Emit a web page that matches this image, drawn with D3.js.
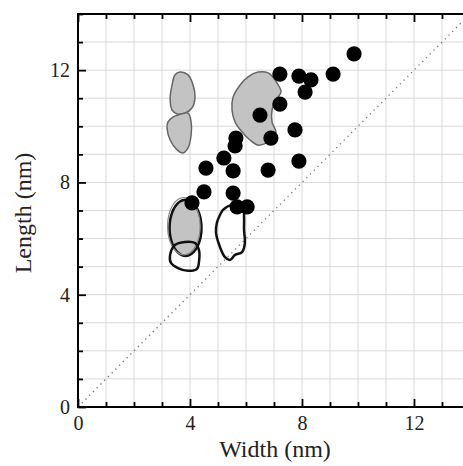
<!DOCTYPE html>
<html>
<head>
<meta charset="utf-8">
<script src="https://cdn.jsdelivr.net/npm/d3@7"></script>
<style>
  body { margin: 0; background: #fff; }
  svg { display: block; }
  text { font-family: "Liberation Serif", "DejaVu Serif", serif; fill: #222; }
</style>
</head>
<body>
<svg id="chart" width="463" height="466"></svg>
<script>
// measured particles (width, length) in nm
const widths  = [9.86, 7.21, 7.89, 8.32, 9.11, 8.11, 7.21, 6.50, 7.75, 6.89, 5.64,
                 5.61, 5.21, 4.57, 5.54, 6.79, 7.89, 4.50, 5.54, 4.07, 5.68, 6.04];
const lengths = [12.58, 11.86, 11.79, 11.65, 11.86, 11.22, 10.79, 10.40, 9.87, 9.58, 9.58,
                 9.30, 8.87, 8.51, 8.41, 8.44, 8.76, 7.66, 7.62, 7.27, 7.13, 7.13];

// contour regions, [width, length]
const bigBlob = [[6.43, 11.93], [6.79, 11.90], [7.11, 11.54], [7.25, 11.22], [7.07, 10.94],
                 [6.93, 10.58], [6.93, 10.15], [7.07, 9.80], [6.96, 9.55], [6.75, 9.41],
                 [6.43, 9.33], [6.14, 9.51], [5.86, 9.80], [5.61, 10.15], [5.50, 10.58],
                 [5.54, 11.04], [5.79, 11.47], [6.07, 11.76]];
const upperBlob = [[3.64, 11.93], [3.93, 11.83], [4.11, 11.47], [4.18, 11.04], [4.07, 10.65],
                   [3.82, 10.47], [3.54, 10.44], [3.36, 10.58], [3.29, 11.01], [3.36, 11.47],
                   [3.46, 11.83]];
const lowerBlob = [[3.57, 10.40], [3.93, 10.47], [4.04, 10.15], [4.04, 9.69], [3.93, 9.23],
                   [3.75, 9.05], [3.54, 9.16], [3.29, 9.51], [3.18, 9.94], [3.21, 10.15],
                   [3.39, 10.33]];
const smallLoop = [[3.46, 5.77], [3.82, 5.88], [4.18, 5.84], [4.32, 5.59], [4.32, 5.17],
                   [4.25, 4.92], [3.93, 4.85], [3.57, 4.95], [3.32, 5.13], [3.29, 5.42]];
const midLoop = [[5.18, 7.02], [5.50, 7.20], [5.89, 7.13], [5.93, 6.77], [5.93, 6.31],
                 [5.96, 5.84], [5.86, 5.52], [5.61, 5.42], [5.43, 5.24], [5.25, 5.34],
                 [5.07, 5.70], [4.93, 6.20], [4.96, 6.56], [5.07, 6.84]];
// ellipse region: center x, center y, half width, half height
const ovalIn  = [3.84, 6.38, 0.57, 1.00];
const ovalOut = [3.78, 6.44, 0.58, 1.02];

const majorTicks = [0, 4, 8, 12];
const minorTicks = d3.range(0, 15);

const svg = d3.select("#chart");
const left = 78, bottom = 407, plotTop = 14;

const x = d3.scaleLinear().domain([0, 14]).range([left, left + 14 * 28]);
const y = d3.scaleLinear().domain([0, 14]).range([bottom, plotTop]);

// grid
svg.append("g")
  .selectAll("line.gx")
  .data(minorTicks.slice(1))
  .enter().append("line")
  .attr("x1", d => x(d)).attr("x2", d => x(d))
  .attr("y1", y(0)).attr("y2", y(14))
  .attr("stroke", "#d9d9d9").attr("stroke-width", 1);
svg.append("g")
  .selectAll("line.gy")
  .data(minorTicks.slice(1))
  .enter().append("line")
  .attr("y1", d => y(d)).attr("y2", d => y(d))
  .attr("x1", x(0)).attr("x2", x(14))
  .attr("stroke", "#d9d9d9").attr("stroke-width", 1);

// diagonal y = x
svg.append("line")
  .attr("x1", x(0)).attr("y1", y(0))
  .attr("x2", x(14)).attr("y2", y(14))
  .attr("stroke", "#777").attr("stroke-width", 1.3)
  .attr("stroke-dasharray", "1.3,4");

const line = d3.line()
  .x(d => x(d[0])).y(d => y(d[1]))
  .curve(d3.curveCatmullRomClosed.alpha(0.5));

function oval(o) {
  return d3.range(0, 360, 10).map(a => {
    const t = a * Math.PI / 180;
    return [o[0] + o[2] * Math.cos(t), o[1] + o[3] * Math.sin(t)];
  });
}

// gray regions
[bigBlob, upperBlob, lowerBlob].forEach(s => {
  svg.append("path").attr("d", line(s))
    .attr("fill", "#c3c3c3").attr("stroke", "#666").attr("stroke-width", 1.5);
});

svg.append("path").attr("d", line(oval(ovalIn)))
  .attr("fill", "#c3c3c3").attr("stroke", "#111").attr("stroke-width", 2.5);
svg.append("path").attr("d", line(oval(ovalOut)))
  .attr("fill", "none").attr("stroke", "#888").attr("stroke-width", 1.2);

[smallLoop, midLoop].forEach(s => {
  svg.append("path").attr("d", line(s))
    .attr("fill", "none").attr("stroke", "#111").attr("stroke-width", 2.5);
});

// points
svg.append("g")
  .selectAll("circle")
  .data(widths.map((w, i) => [w, lengths[i]]))
  .enter().append("circle")
  .attr("cx", d => x(d[0])).attr("cy", d => y(d[1]))
  .attr("r", 7.6).attr("fill", "#000");

// axes with inward ticks
function tickLen(d) { return majorTicks.includes(d) ? 8 : 5; }

const xAxis = d3.axisBottom(x).tickValues(minorTicks).tickSizeOuter(0)
  .tickSizeInner(0).tickFormat(d => majorTicks.includes(d) ? d : "");
const gx = svg.append("g").attr("transform", `translate(0,${bottom})`).call(xAxis);
gx.selectAll(".tick line").attr("y2", d => -tickLen(d)).attr("stroke", "#000").attr("stroke-width", 1.8);
gx.selectAll(".tick text").attr("dy", "0.95em").attr("y", 4).style("font-size", "20px")
  .style("font-family", "Liberation Serif").attr("fill", "#222");
gx.select(".domain").remove();

const gt = svg.append("g").attr("transform", `translate(0,${plotTop})`)
  .call(d3.axisTop(x).tickValues(minorTicks).tickSizeOuter(0).tickSizeInner(0).tickFormat(""));
gt.selectAll(".tick line").attr("y2", d => tickLen(d)).attr("stroke", "#000").attr("stroke-width", 1.8);
gt.select(".domain").remove();

const yAxis = d3.axisLeft(y).tickValues(minorTicks).tickSizeOuter(0)
  .tickSizeInner(0).tickFormat(d => majorTicks.includes(d) ? d : "");
const gy = svg.append("g").attr("transform", `translate(${left},0)`).call(yAxis);
gy.selectAll(".tick line").attr("x2", d => tickLen(d)).attr("stroke", "#000").attr("stroke-width", 1.8);
gy.selectAll(".tick text").attr("x", -8).style("font-size", "20px")
  .style("font-family", "Liberation Serif").attr("fill", "#222");
gy.select(".domain").remove();

// frame
svg.append("path")
  .attr("d", `M${x(14)},${plotTop}H${left}V${bottom}H${x(14)}`)
  .attr("fill", "none").attr("stroke", "#000").attr("stroke-width", 2);

// titles
svg.append("text").attr("x", 275).attr("y", 457).attr("text-anchor", "middle")
  .style("font-size", "24px").text("Width (nm)");
svg.append("text").attr("transform", "translate(31,213) rotate(-90)")
  .attr("text-anchor", "middle").style("font-size", "24px").text("Length (nm)");
</script>
</body>
</html>
